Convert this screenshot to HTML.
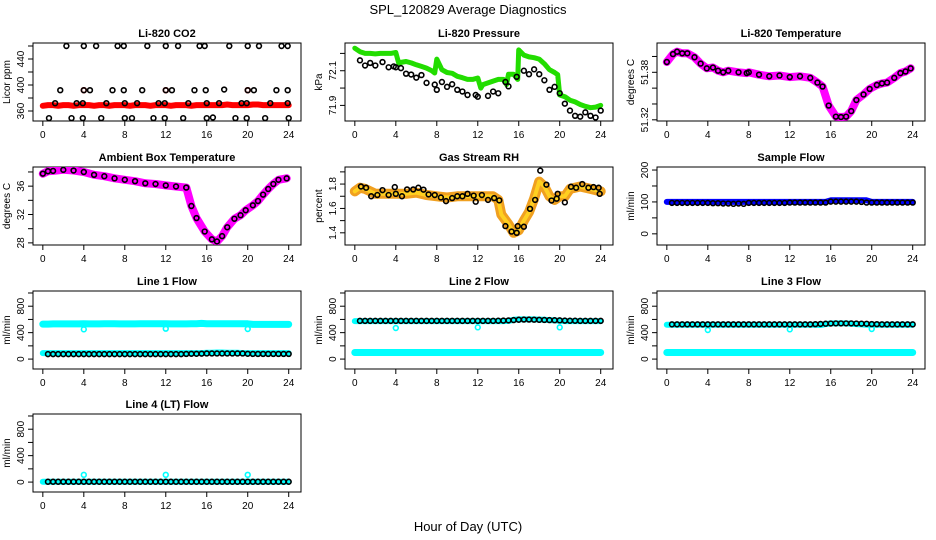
<!DOCTYPE html>
<html><head><meta charset="utf-8"><style>
html,body{margin:0;padding:0;background:#fff;}
svg{display:block;font-family:"Liberation Sans",sans-serif;}
</style></head><body>
<svg id="chart" width="936" height="540" viewBox="0 0 936 540" xmlns="http://www.w3.org/2000/svg">
<rect width="936" height="540" fill="#fff"/>
<text x="468" y="14" text-anchor="middle" font-size="13">SPL_120829  Average Diagnostics</text>
<text x="468" y="531" text-anchor="middle" font-size="13">Hour of Day (UTC)</text>
</svg>
<script>
// ---- data arrays ----
const H = [0,0.5,1,1.5,2,2.5,3,3.5,4,4.5,5,5.5,6,6.5,7,7.5,8,8.5,9,9.5,10,10.5,11,11.5,12,12.5,13,13.5,14,14.5,15,15.5,16,16.5,17,17.5,18,18.5,19,19.5,20,20.5,21,21.5,22,22.5,23,23.5,24];
const HB = [0.5,1,1.5,2,2.5,3,3.5,4,4.5,5,5.5,6,6.5,7,7.5,8,8.5,9,9.5,10,10.5,11,11.5,12,12.5,13,13.5,14,14.5,15,15.5,16,16.5,17,17.5,18,18.5,19,19.5,20,20.5,21,21.5,22,22.5,23,23.5,24];
const xTicks = [0,4,8,12,16,20,24];

const co2Red = [368,369,369,368,369,369,368,369,369,369,368,369,369,368,369,369,369,368,369,369,369,368,369,369,369,368,369,369,369,368,369,369,369,369,369,369,370,369,369,369,369,370,370,369,369,369,369,369,369];
const co2T = [2.3,4.0,5.2,7.3,7.9,10.2,12.0,13.2,15.3,15.8,18.2,20.0,21.1,23.3,23.9,
 1.7,4.0,4.6,6.8,7.9,9.7,12.0,12.6,14.8,15.9,17.7,20.0,20.6,22.8,23.9,
 1.2,3.3,3.9,6.2,8.0,9.2,11.3,11.9,14.2,16.0,17.2,19.4,19.9,22.2,23.9,
 0.6,2.8,3.9,5.7,8.0,8.7,10.8,11.9,13.7,16.0,16.6,18.8,19.9,21.7,24.0];
const co2V = [460,460,460,460,460,460,460,460,460,460,460,460,460,460,460,
 392,392,392,392,392,392,392,392,392,392,393,392,392,392,392,
 372,372,372,372,372,372,372,372,372,372,372,372,372,372,372,
 349,349,349,349,349,349,349,349,349,349,350,349,349,349,349];
const co2RedT = [4.0,12.0,20.0];
const co2RedV = [392,392,392];

const presGT = [0,0.5,1,1.5,2,2.5,3,3.5,4,4.3,4.5,5,5.5,6,6.5,7,7.5,7.8,8,8.5,9,9.5,10,10.5,11,11.5,12,12.3,12.5,13,13.5,14,14.5,14.8,15,15.5,15.9,16,16.5,17,17.5,18,18.5,19,19.5,19.8,20,20.5,21,21.5,22,22.5,23,23.5,24];
const presGV = [72.23,72.21,72.20,72.20,72.197,72.20,72.20,72.20,72.205,72.14,72.148,72.153,72.145,72.134,72.125,72.115,72.10,72.087,72.167,72.106,72.09,72.085,72.068,72.06,72.05,72.05,72.058,72.0,72.02,72.03,72.04,72.05,72.05,72.02,72.08,72.08,72.05,72.22,72.19,72.18,72.175,72.167,72.14,72.106,72.09,72.077,71.96,71.95,71.93,71.92,71.905,71.895,71.887,71.89,71.9];
const presBT = [0.5,1,1.5,2,2.7,3.3,3.8,4,4.5,5,5.5,6,6.5,7,7.8,8,8.5,9,9.5,10,10.5,11,11.8,12,13,13.5,14,14.7,15,15.8,16.5,17,17.5,18,18.5,19,19.5,20,20.5,21,21.5,22,22.5,23,23.5,24];
const presBV = [72.16,72.13,72.145,72.13,72.15,72.12,72.125,72.12,72.115,72.083,72.078,72.06,72.075,72.03,72.02,71.99,72.035,72.007,72.022,71.99,71.98,71.96,71.96,71.95,71.955,71.98,71.97,72.035,72.01,72.065,72.10,72.08,72.108,72.08,72.045,71.99,72.007,71.97,71.91,71.87,71.84,71.835,71.86,71.84,71.83,71.87];

const tempT = [0,0.6,1,1.5,2,2.7,3.3,3.9,4.5,5,5.5,6,7,7.8,8,9,10,11,12,13,14,14.7,15.2,15.8,16.5,17,17.5,18,18.5,19.2,19.8,20.5,21,21.5,22.2,22.8,23.3,23.8];
const tempV = [51.393,51.403,51.406,51.404,51.404,51.399,51.391,51.385,51.386,51.382,51.380,51.382,51.380,51.379,51.380,51.377,51.375,51.376,51.374,51.375,51.373,51.367,51.362,51.338,51.324,51.3235,51.324,51.331,51.345,51.352,51.359,51.364,51.366,51.367,51.373,51.379,51.381,51.385];

const ambT = [0,0.5,1,2,3,4,5,6,7,8,9,10,11,12,13,14,14.5,15,15.8,16.5,17,17.5,18,18.7,19.3,19.8,20.5,21,21.5,22,22.5,23,23.8];
const ambV = [37.76,38.1,38.15,38.3,38.2,38.0,37.6,37.4,37.1,36.9,36.7,36.4,36.3,36.1,35.95,35.8,33.2,31.5,29.6,28.5,28.2,28.95,30.2,31.4,31.9,32.6,33.3,33.9,34.8,35.6,36.3,36.9,37.1];

const rhT = [0,0.5,1,2,3,4,5,6,7,8,9,10,11,12,13,13.5,14,14.3,15,15.5,16,16.5,17,17.5,18,18.5,19,19.5,20,20.5,21,22,23,24];
const rhV = [1.74,1.77,1.76,1.72,1.72,1.72,1.72,1.73,1.71,1.70,1.69,1.70,1.70,1.70,1.70,1.70,1.67,1.55,1.47,1.40,1.42,1.50,1.57,1.68,1.82,1.78,1.70,1.67,1.70,1.70,1.76,1.78,1.76,1.74];
const rhBT = [0.6,1.1,1.6,2.2,2.7,3.3,3.9,4,4.6,5.1,5.7,6.2,6.7,7.2,7.8,8.4,8.9,9.5,10,10.5,11,11.6,11.8,12.4,13,13.6,14.1,14.7,15.3,15.8,15.9,16.5,17.1,17.6,18.1,18.7,19.2,19.7,19.8,20.5,21.1,21.6,22.2,22.8,23.3,23.8,23.9];
const rhBV = [1.78,1.77,1.70,1.71,1.75,1.71,1.775,1.72,1.70,1.756,1.756,1.77,1.754,1.715,1.71,1.69,1.66,1.685,1.70,1.70,1.72,1.705,1.655,1.71,1.67,1.685,1.666,1.455,1.41,1.40,1.455,1.45,1.597,1.67,1.91,1.795,1.665,1.68,1.72,1.65,1.778,1.77,1.80,1.77,1.775,1.77,1.72];

const sfBlue = [100,100,100,100,100,100,100,100,100,100,100,100,100,100,100,100,100,100,100,100,100,100,100,100,100,100,100,100,100,100,100,100,105,105,105,105,105,105,105,105,100,100,100,100,100,100,100,100,100];
const sfBlack = [97,97,97,97,97,97,97,97,96,96,95,95,94,95,94,97,97,97,97,97,97,97,97,98,98,98,98,98,98,98,98,101,101,101,101,101,101,100,98,98,98,98,98,98,98,98,98,98];

const l1Hi = [530,530,532,532,533,533,532,532,535,533,533,533,534,534,534,533,533,533,533,534,534,534,534,534,534,533,533,533,533,534,534,540,534,534,534,534,534,534,534,534,534,525,525,525,525,525,525,525,525];
const l1Lo = [90,90,90,90,90,90,90,90,90,90,90,90,90,90,90,90,90,90,90,90,90,90,90,90,90,90,90,90,90,90,90,90,95,95,100,100,95,95,95,90,90,90,90,90,90,90,90,90,90];
const l1Blk = [75,75,75,75,75,75,75,75,75,75,75,75,75,75,75,75,75,75,75,75,75,75,75,75,75,75,75,78,80,80,82,85,85,85,85,85,85,85,85,80,78,78,78,78,78,78,78,78];
const dipT = [4,12,20];
const l1Dip = [450,460,455];

const l2Hi = [575,575,575,575,575,575,575,575,575,575,575,575,575,575,575,575,575,575,575,575,575,575,575,575,575,575,575,575,575,575,578,595,600,600,600,600,598,595,590,585,580,575,575,575,575,575,575,575,575];
const l2Lo = [100,100,100,100,100,100,100,100,100,100,100,100,100,100,100,100,100,100,100,100,100,100,100,100,100,100,100,100,100,100,100,100,100,100,100,100,100,100,100,100,100,100,100,100,100,100,100,100,100];
const l2Blk = [578,578,578,578,578,578,578,578,578,578,578,578,578,578,578,578,578,578,578,578,578,578,578,578,578,578,578,580,582,585,590,595,598,598,596,594,592,590,588,586,582,580,580,578,578,578,578,578];
const l2Dip = [470,480,480];

const l3Hi = [520,520,520,520,520,520,520,520,520,520,520,520,520,520,520,520,520,520,520,520,520,520,520,520,520,520,520,520,520,520,515,530,540,540,540,540,535,530,525,520,520,520,520,520,520,520,520,520,520];
const l3Lo = [100,100,100,100,100,100,100,100,100,100,100,100,100,100,100,100,100,100,100,100,100,100,100,100,100,100,100,100,100,100,100,100,100,100,100,100,100,100,100,100,100,100,100,100,100,100,100,100,100];
const l3Blk = [525,525,525,525,525,525,525,525,525,525,525,525,525,525,525,525,525,525,525,525,525,525,525,525,525,525,525,525,528,532,535,538,540,540,540,540,538,536,534,530,528,525,525,525,525,525,525,525];
const l3Dip = [440,450,455];

const l4Cyan = [5,5,5,5,5,5,5,5,5,5,5,5,5,5,5,5,5,5,5,5,5,5,5,5,5,5,5,5,5,5,5,5,5,5,5,5,5,5,5,5,5,5,5,5,5,5,5,5,5];
const l4Blk = [5,5,5,5,5,5,5,5,5,5,5,5,5,5,5,5,5,5,5,5,5,5,5,5,5,5,5,5,5,5,5,5,5,5,5,5,5,5,5,5,5,5,5,5,5,5,5,5];
const l4Dip = [110,110,110];

const flowTicks = [0,200,400,600,800,1000];
const flowLabels = ["0","","400","","800",""];

// ---- drawing ----
const NS = "http://www.w3.org/2000/svg";
const svg = document.getElementById('chart');
function mk(tag, attrs, parent){
  const e = document.createElementNS(NS, tag);
  for (const k in attrs) e.setAttribute(k, attrs[k]);
  (parent||svg).appendChild(e);
  return e;
}
const W = 268, HT = 78, XMIN = -0.96, XMAX = 25.2;

function makePanel(key, x0, y0, title, ylab, ymin, ymax, yticks, ylabels){
  const g = mk('g', {});
  
  
  const xs = h => x0 + (h - XMIN) / (XMAX - XMIN) * W;
  const ys = v => y0 + HT - (v - ymin) / (ymax - ymin) * HT;
  const t = mk('text', {x: x0 + W/2, y: y0 - 6, 'text-anchor': 'middle', 'font-size': 11, 'font-weight': 'bold'}, g);
  
  
  t.textContent = title;
  const box = mk('rect', {x: x0, y: y0, width: W, height: HT, fill: 'none', stroke: '#000', 'stroke-width': 1}, g);
  
  
  const xa = mk('g', {}, g);
  
  
  mk('line', {x1: xs(0), x2: xs(24), y1: y0 + HT, y2: y0 + HT, stroke: '#000'}, xa);
  xTicks.forEach(v => {
    mk('line', {x1: xs(v), x2: xs(v), y1: y0 + HT, y2: y0 + HT + 5, stroke: '#000'}, xa);
    const tl = mk('text', {x: xs(v), y: y0 + HT + 17, 'text-anchor': 'middle', 'font-size': 10}, xa);
    
    
    tl.textContent = v;
  });
  const ya = mk('g', {}, g);
  
  
  mk('line', {x1: x0, x2: x0, y1: ys(yticks[0]), y2: ys(yticks[yticks.length-1]), stroke: '#000'}, ya);
  yticks.forEach((v, i) => {
    mk('line', {x1: x0 - 5, x2: x0, y1: ys(v), y2: ys(v), stroke: '#000'}, ya);
    if (ylabels[i]) {
      const yy = ys(v);
      const tl = mk('text', {x: x0 - 9, y: yy, 'text-anchor': 'middle', 'font-size': 10, transform: 'rotate(-90 ' + (x0 - 9) + ' ' + yy + ')'}, ya);
      
      
      tl.textContent = ylabels[i];
    }
  });
  const yl = mk('text', {x: x0 - 23, y: y0 + HT/2, 'text-anchor': 'middle', 'font-size': 10, transform: 'rotate(-90 ' + (x0 - 23) + ' ' + (y0 + HT/2) + ')'}, g);
  
  
  yl.textContent = ylab;
  const clip = 'clip-' + key;
  const cp = mk('clipPath', {id: clip}, g);
  mk('rect', {x: x0, y: y0, width: W, height: HT}, cp);
  const plot = mk('g', {'clip-path': 'url(#' + clip + ')'}, g);
  return {g: plot, xs, ys, key};
}
function band(p, T, V, color, w, name){
  const pts = T.map((t, i) => p.xs(t).toFixed(1) + ',' + p.ys(V[i]).toFixed(1)).join(' ');
  const pl = mk('polyline', {points: pts, fill: 'none', stroke: color, 'stroke-width': w, 'stroke-linejoin': 'round', 'stroke-linecap': 'round'}, p.g);
  
  
}
function circles(p, T, V, color, name, r){
  T.forEach((t, i) => {
    const c = mk('circle', {cx: p.xs(t), cy: p.ys(V[i]), r: r || 2.4, fill: 'none', stroke: color, 'stroke-width': 1.6}, p.g);
    
    
  });
}

const C = [33, 345, 657], R = [43, 167, 291, 414];

let p = makePanel('co2', C[0], R[0], 'Li-820 CO2', 'Licor ppm', 344.6, 464.6, [360,380,400,420,440,460], ['360','','400','','440','']);
band(p, H, co2Red, '#ff0000', 6, 'co2-red-series');
circles(p, co2RedT, co2RedV, '#ff0000', 'co2-red-point');
circles(p, co2T, co2V, '#000', 'co2-point');

p = makePanel('pressure', C[1], R[0], 'Li-820 Pressure', 'kPa', 71.81, 72.26, [71.9,72.0,72.1,72.2], ['71.9','','72.1','']);
band(p, presGT, presGV, '#22dd00', 5, 'pressure-green-series');
circles(p, presBT, presBV, '#000', 'pressure-point');

p = makePanel('li-temp', C[2], R[0], 'Li-820 Temperature', 'degrees C', 51.3185, 51.417, [51.32,51.34,51.36,51.38,51.40], ['51.32','','','51.38','']);
band(p, tempT, tempV, '#ff00ff', 8, 'li-temp-magenta-series');
circles(p, tempT, tempV, '#000', 'li-temp-point');

p = makePanel('ambient', C[0], R[1], 'Ambient Box Temperature', 'degrees C', 27.7, 38.7, [28,30,32,34,36,38], ['28','','32','','36','']);
band(p, ambT, ambV, '#ff00ff', 8, 'ambient-magenta-series');
circles(p, ambT, ambV, '#000', 'ambient-point');

p = makePanel('rh', C[1], R[1], 'Gas Stream RH', 'percent', 1.3, 1.94, [1.4,1.5,1.6,1.7,1.8,1.9], ['1.4','','1.6','','1.8','']);
band(p, rhT, rhV, '#f0a020', 10, 'rh-orange-series');
band(p, rhT, rhV, '#ffd020', 4, 'rh-yellow-series');
circles(p, rhBT, rhBV, '#000', 'rh-point');

p = makePanel('sample-flow', C[2], R[1], 'Sample Flow', 'ml/min', -35, 209.5, [0,50,100,150,200], ['0','','100','','200']);
band(p, H, sfBlue, '#0000ff', 6, 'sample-flow-blue-series');
circles(p, HB, sfBlack, '#000', 'sample-flow-point');

p = makePanel('line1', C[0], R[2], 'Line 1 Flow', 'ml/min', -150, 1030, flowTicks, flowLabels);
band(p, H, l1Hi, '#00ffff', 7, 'line1-cyan-high-series');
band(p, H, l1Lo, '#00ffff', 6, 'line1-cyan-low-series');
circles(p, dipT, l1Dip, '#00ffff', 'line1-cyan-dip');
circles(p, HB, l1Blk, '#000', 'line1-point');

p = makePanel('line2', C[1], R[2], 'Line 2 Flow', 'ml/min', -150, 1030, flowTicks, flowLabels);
band(p, H, l2Hi, '#00ffff', 6, 'line2-cyan-high-series');
band(p, H, l2Lo, '#00ffff', 7, 'line2-cyan-low-series');
circles(p, dipT, l2Dip, '#00ffff', 'line2-cyan-dip');
circles(p, HB, l2Blk, '#000', 'line2-point');

p = makePanel('line3', C[2], R[2], 'Line 3 Flow', 'ml/min', -150, 1030, flowTicks, flowLabels);
band(p, H, l3Hi, '#00ffff', 6, 'line3-cyan-high-series');
band(p, H, l3Lo, '#00ffff', 7, 'line3-cyan-low-series');
circles(p, dipT, l3Dip, '#00ffff', 'line3-cyan-dip');
circles(p, HB, l3Blk, '#000', 'line3-point');

p = makePanel('line4', C[0], R[3], 'Line 4 (LT) Flow', 'ml/min', -150, 1030, flowTicks, flowLabels);
band(p, H, l4Cyan, '#00ffff', 6, 'line4-cyan-series');
circles(p, dipT, l4Dip, '#00ffff', 'line4-cyan-spike');
circles(p, HB, l4Blk, '#000', 'line4-point');
</script>
</body></html>
